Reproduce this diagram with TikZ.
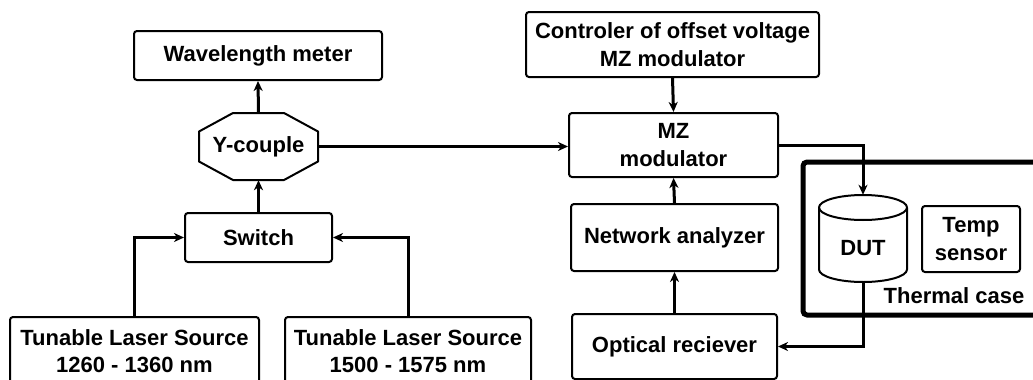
\documentclass[tikz,border=0pt]{standalone}
\usepackage{fontspec}
\setmainfont{Liberation Sans}
\usetikzlibrary{arrows.meta}
\begin{document}
\begin{tikzpicture}[x=1pt,y=-1pt,
  txt/.style={inner sep=0pt, align=center, font=\bfseries\fontsize{22}{27.5}\selectfont},
  box/.style={txt, draw, line width=2pt, rounded corners=3pt},
  conn/.style={line width=3pt, -{Stealth[length=10pt,width=9pt,inset=3pt]}},
  plain/.style={line width=3pt},
  shapeline/.style={line width=2pt, line join=round}]
\useasboundingbox (0,0) rectangle (1033,380);
\clip (0,0) rectangle (1033,380);

% thermal case
\draw[line width=5pt, rounded corners=4pt] (1060,162) -- (803,162) -- (803,315) -- (1060,315);

% nodes
\node[box, minimum width=248, minimum height=49] (wm) at (258,55.5) {Wavelength meter};
\node[txt, minimum width=119, minimum height=67] (yc) at (258.5,146.5) {Y-couple};
\draw[shapeline, shift={(yc.center)}] (-25.5,-33.5) -- (25.5,-33.5) -- (59.5,-15) -- (59.5,15) -- (25.5,33.5) -- (-25.5,33.5) -- (-59.5,15) -- (-59.5,-15) -- cycle;
\node[box, minimum width=147, minimum height=49] (sw) at (258.5,237.5) {Switch};
\node[box, minimum width=249, minimum height=68] (l1) at (134.5,351) {Tunable Laser Source\\1260 - 1360 nm};
\node[box, minimum width=246, minimum height=68] (l2) at (408,351) {Tunable Laser Source\\1500 - 1575 nm};
\node[box, minimum width=293, minimum height=65] (ctrl) at (672.5,44.5) {Controler of offset voltage\\MZ modulator};
\node[box, minimum width=209, minimum height=64] (mz) at (673.5,145) {MZ\\modulator};
\node[box, minimum width=207, minimum height=67] (na) at (674.5,237.5) {Network analyzer};
\node[box, minimum width=205, minimum height=65] (or) at (674.5,346.5) {Optical reciever};
\node[box, minimum width=98, minimum height=66] (ts) at (971,239) {Temp\\sensor};
\node[txt] (tc) at (954,295.5) {Thermal case};

% DUT cylinder
\node[txt, minimum width=88, minimum height=87, text height=33pt, text depth=0pt] (dut) at (863,238.5) {DUT};
\draw[shapeline, shift={(dut.center)}] (0,-31) ellipse [x radius=44, y radius=12.5];
\draw[shapeline, shift={(dut.center)}] (-44,-31) -- (-44,31) arc[start angle=180, end angle=0, x radius=44, y radius=12.5] -- (44,-31);

% connectors
\draw[conn] (yc.north) -- (wm.south);
\draw[conn] (sw.north) -- (yc.south);
\draw[conn] (l1.north) |- (sw.west);
\draw[conn] (l2.north) |- (sw.east);
\draw[conn] (yc.east) -- (yc.east -| mz.west);
\draw[conn] (ctrl.south) -- (mz.north);
\draw[conn] (na.north) -- (mz.south);
\draw[conn] (or.north) -- (na.south);
\draw[conn] (mz.east) -| (dut.north);
\draw[conn] (dut.south) |- (or.east);
\end{tikzpicture}
\end{document}
